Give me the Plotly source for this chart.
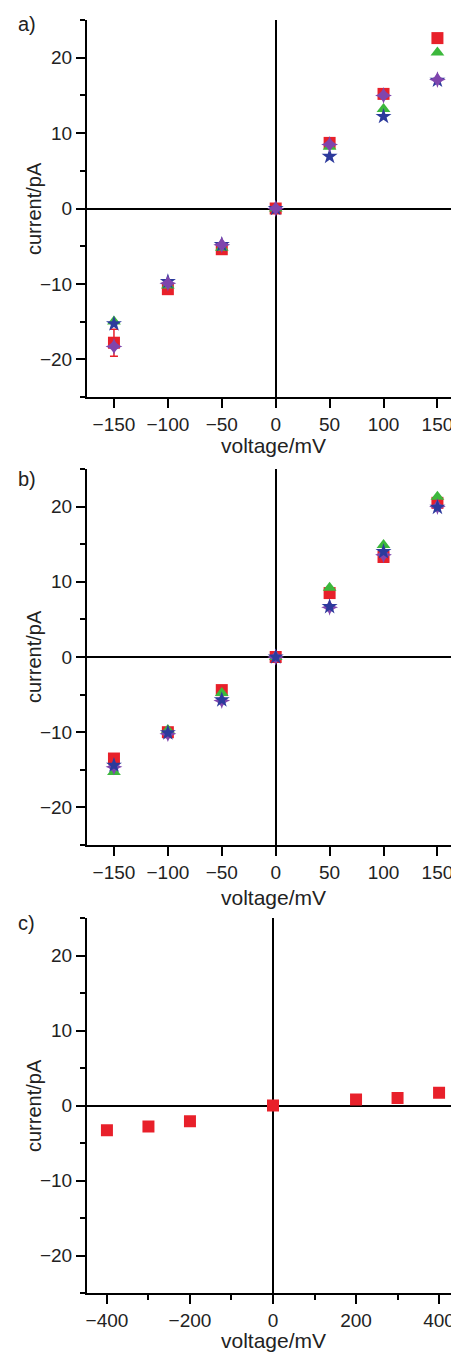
import plotly.graph_objects as go

## Data
volt_ab = [-150, -100, -50, 0, 50, 100, 150]

# panel a)
a_red = [-17.8, -10.7, -5.4, 0, 8.7, 15.2, 22.6]
a_red_err = [1.8, 0.4, 0.3, 0, 0.5, 0.4, 0.3]
a_green = [-15.0, -10.2, -5.2, 0, 8.2, 13.2, 20.7]
a_blue = [-15.3, -9.7, -4.8, 0, 6.9, 12.2, 17.0]
a_purple = [-18.3, -9.9, -4.8, 0, 8.5, 15.0, 17.1]

# panel b)
b_red = [-13.5, -10.0, -4.4, 0, 8.5, 13.3, 20.5]
b_green = [-15.3, -9.7, -4.8, 0, 9.2, 14.9, 21.3]
b_blue = [-14.4, -10.1, -5.7, 0, 6.7, 14.0, 19.9]
b_purple = [-14.6, -10.2, -5.8, 0, 6.6, 13.6, 20.0]

# panel c)
volt_c = [-400, -300, -200, 0, 200, 300, 400]
c_red = [-3.3, -2.8, -2.1, 0, 0.8, 1.0, 1.7]

## Styling
# the page body adds an 8px margin, so the figure is shrunk by that much
# and pixel positions below are measured on the full 459x1354 picture
OFF = 8
W, H = 459 - OFF, 1354 - OFF
font_family = 'Liberation Sans, Arial, sans-serif'
col_red = '#e8202a'
col_green = '#3cb83c'
col_blue = '#2c3a9c'
col_purple = '#7f45ad'

def fx(px):
    return (px - OFF) / W

def fy(py):
    return 1 - (py - OFF) / H

fig = go.Figure()

def add_series(x, y, color, symbol, xa, ya, err=None):
    fig.add_trace(go.Scatter(
        x=x, y=y, mode='markers',
        marker=dict(color=color, symbol=symbol, size=12, line=dict(width=0)),
        error_y=dict(type='data', array=err, color=color, thickness=1.5, width=4,
                     visible=err is not None),
        xaxis=xa, yaxis=ya, showlegend=False
    ))

add_series(volt_ab, a_red, col_red, 'square', 'x', 'y', a_red_err)
add_series(volt_ab, a_green, col_green, 'triangle-up', 'x', 'y')
add_series(volt_ab, a_blue, col_blue, 'star', 'x', 'y')
add_series(volt_ab, a_purple, col_purple, 'star-diamond', 'x', 'y')

add_series(volt_ab, b_red, col_red, 'square', 'x2', 'y2')
add_series(volt_ab, b_green, col_green, 'triangle-up', 'x2', 'y2')
add_series(volt_ab, b_purple, col_purple, 'star-diamond', 'x2', 'y2')
add_series(volt_ab, b_blue, col_blue, 'star', 'x2', 'y2')

add_series(volt_c, c_red, col_red, 'square', 'x3', 'y3')

axis_common = dict(
    showline=True, linecolor='black', linewidth=2,
    ticks='outside', tickcolor='black', tickwidth=1.5, ticklen=9,
    showgrid=False, zeroline=True, zerolinecolor='black', zerolinewidth=2,
    tickfont=dict(size=19, color='#222'),
)

def xaxis(rng, dtick, anchor, minor=None):
    d = dict(axis_common, range=rng, dtick=dtick, tick0=0, anchor=anchor,
             domain=[fx(87), 1])
    if minor:
        d['minor'] = dict(dtick=minor, ticks='outside', ticklen=5, tickcolor='black', tickwidth=1.5)
    return d

def yaxis(top, bottom, anchor):
    return dict(axis_common, range=[-25, 25], dtick=10, tick0=0, anchor=anchor,
                domain=[fy(bottom), fy(top)],
                minor=dict(dtick=5, ticks='outside', ticklen=5, tickcolor='black', tickwidth=1.5))

annotations = []
for label, ly, ty, xy in [('a)', 24, 209, 446), ('b)', 479, 657, 897), ('c)', 923, 1106, 1340)]:
    annotations.append(dict(text=label, x=fx(16), y=fy(ly), xref='paper', yref='paper',
                            xanchor='left', yanchor='middle', showarrow=False,
                            font=dict(size=20, color='#222')))
    annotations.append(dict(text='current/pA', x=fx(34), y=fy(ty), xref='paper', yref='paper',
                            xanchor='center', yanchor='middle', textangle=-90, showarrow=False,
                            font=dict(size=20, color='#222')))
    annotations.append(dict(text='voltage/mV', x=fx(273), y=fy(xy), xref='paper', yref='paper',
                            xanchor='center', yanchor='middle', showarrow=False,
                            font=dict(size=21, color='#222')))

fig.update_layout(
    width=W, height=H,
    margin=dict(l=0, r=0, t=0, b=0),
    paper_bgcolor='white', plot_bgcolor='white',
    font=dict(family=font_family, size=19, color='#222'),
    xaxis=xaxis([-175, 170], 50, 'y'),
    yaxis=yaxis(20, 397, 'x'),
    xaxis2=xaxis([-175, 170], 50, 'y2'),
    yaxis2=yaxis(469, 845, 'x2'),
    xaxis3=xaxis([-448, 448], 200, 'y3', minor=100),
    yaxis3=yaxis(918, 1293, 'x3'),
    annotations=annotations,
)

fig.write_html("out.html")
